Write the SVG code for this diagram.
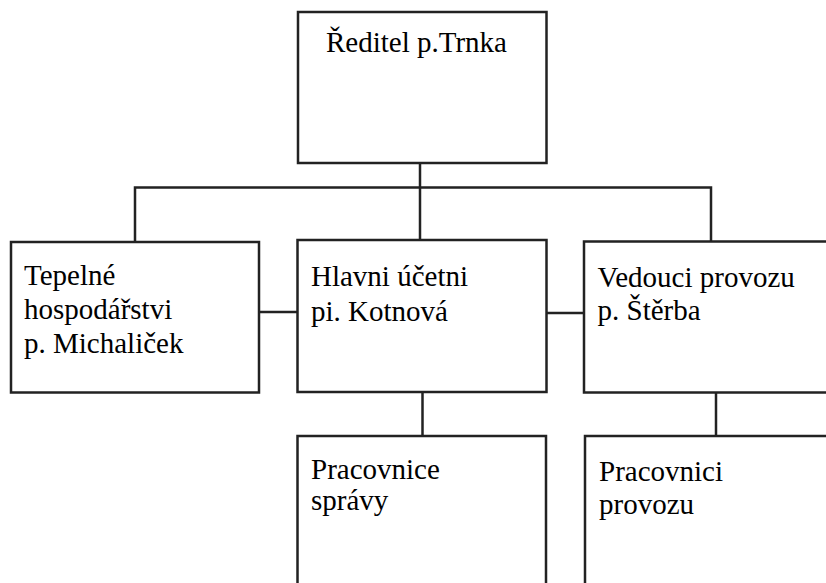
<svg xmlns="http://www.w3.org/2000/svg" width="826" height="583" viewBox="0 0 826 583">
<style>
.box{fill:#fff;stroke:#222;stroke-width:2.5}
.ln{fill:none;stroke:#222;stroke-width:2.5}
.t{font-family:'Liberation Serif', 'Tinos', 'DejaVu Serif', serif;font-size:29px;fill:#000}
</style>
<rect width="826" height="583" fill="#fff"/>
<g id="connectors">
<line class="ln" x1="420" y1="163" x2="420" y2="240"/>
<polyline class="ln" points="135,242 135,187.5 711,187.5 711,241.5"/>
<line class="ln" x1="259" y1="312" x2="297.5" y2="312"/>
<line class="ln" x1="546.5" y1="313" x2="584" y2="313"/>
<line class="ln" x1="422.5" y1="392" x2="422.5" y2="436"/>
<line class="ln" x1="716" y1="392.5" x2="716" y2="436"/>
</g>
<g id="reditel">
<rect class="box" x="298" y="12" width="248.5" height="151"/>
<text class="t" font-family="Liberation Serif, serif" x="326" y="52">Ředitel p.Trnka</text>
</g>
<g id="tepelne">
<rect class="box" x="11" y="242" width="248" height="150.5"/>
<text class="t" x="24" y="285">Tepelné</text>
<text class="t" x="24" y="318.5">hospodářstvi</text>
<text class="t" x="24" y="352.5">p. Michaliček</text>
</g>
<g id="ucetni">
<rect class="box" x="297.5" y="240" width="249" height="152"/>
<text class="t" x="311" y="286">Hlavni účetni</text>
<text class="t" x="311" y="320.5">pi. Kotnová</text>
</g>
<g id="vedouci">
<rect class="box" x="584" y="241.5" width="260" height="151"/>
<text class="t" x="597.5" y="286.5">Vedouci provozu</text>
<text class="t" x="597.5" y="320">p. Štěrba</text>
</g>
<g id="pracovnice">
<rect class="box" x="297.5" y="436" width="248.5" height="170"/>
<text class="t" x="311" y="478.5">Pracovnice</text>
<text class="t" x="311" y="510">správy</text>
</g>
<g id="pracovnici">
<rect class="box" x="585" y="436" width="260" height="170"/>
<text class="t" x="599" y="480.5">Pracovnici</text>
<text class="t" x="599" y="514">provozu</text>
</g>
</svg>
